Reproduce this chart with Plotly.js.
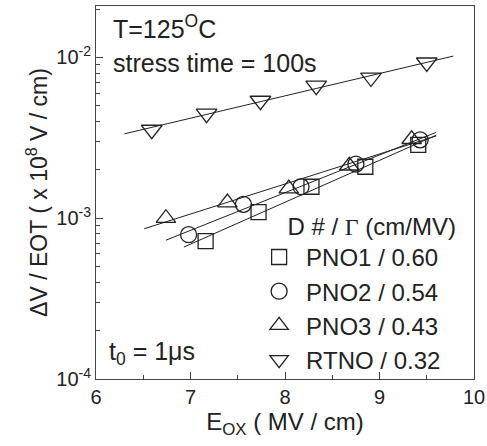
<!DOCTYPE html>
<html>
<head>
<meta charset="utf-8">
<script src="https://cdn.plot.ly/plotly-3.0.1.min.js"></script>
<style>body{margin:0;padding:0;background:#fff}#chart{width:487px;height:446px}</style>
</head>
<body>
<div id="chart"></div>
<script>
// ---- data ----
const seriesNames = ["PNO1 / 0.60", "PNO2 / 0.54", "PNO3 / 0.43", "RTNO / 0.32"];
const eox_PNO1 = [7.16, 7.72, 8.28, 8.85, 9.41];
const dv_PNO1  = [7.2e-4, 1.09e-3, 1.57e-3, 2.09e-3, 2.86e-3];
const eox_PNO2 = [6.98, 7.56, 8.17, 8.75, 9.43];
const dv_PNO2  = [7.9e-4, 1.22e-3, 1.57e-3, 2.17e-3, 3.07e-3];
const eox_PNO3 = [6.74, 7.39, 8.04, 8.68, 9.34];
const dv_PNO3  = [1.0e-3, 1.25e-3, 1.53e-3, 2.12e-3, 3.1e-3];
const eox_RTNO = [6.59, 7.17, 7.74, 8.33, 8.91, 9.50];
const dv_RTNO  = [3.55e-3, 4.47e-3, 5.38e-3, 6.68e-3, 7.5e-3, 9.3e-3];
const gamma    = [0.60, 0.54, 0.43, 0.32];           // cm/MV
const fitStart = [6.93, 6.74, 6.51, 6.30];            // extent of fit lines (MV/cm)
const fitEnd   = [9.60, 9.60, 9.60, 9.78];
const xTicks = [6, 7, 8, 9, 10];
const yTickVals = [1e-4, 1e-3, 1e-2];
const yTickText = ["10<sup>-4</sup>", "10<sup>-3</sup>", "10<sup>-2</sup>"];

const xs = [eox_PNO1, eox_PNO2, eox_PNO3, eox_RTNO];
const ys = [dv_PNO1, dv_PNO2, dv_PNO3, dv_RTNO];
const symbols = ["square-open", "circle-open", "triangle-up-open", "triangle-down-open"];
const sizes = [15, 16, 17, 18];
const ink = "#222";

// minor log ticks 2..9 x 10^k
const yMinor = [];
for (const d of yTickVals) for (let m = 2; m <= 9; m++) yMinor.push(m * d);

const traces = [];
// fit lines: ln(dV) = a + Gamma*E, intercept from the data mean
for (let i = 0; i < 4; i++) {
  const n = xs[i].length;
  let mx = 0, my = 0;
  for (let k = 0; k < n; k++) { mx += xs[i][k]; my += Math.log(ys[i][k]); }
  mx /= n; my /= n;
  const a = my - gamma[i] * mx;
  const fx = [fitStart[i], fitEnd[i]];
  traces.push({
    x: fx, y: fx.map(e => Math.exp(a + gamma[i] * e)),
    mode: "lines", line: {color: ink, width: 1}, showlegend: false, hoverinfo: "skip"
  });
}
for (let i = 0; i < 4; i++) {
  traces.push({
    x: xs[i], y: ys[i], name: seriesNames[i], mode: "markers",
    marker: {symbol: symbols[i], size: sizes[i], color: ink, line: {width: 1.3, color: ink}}
  });
}

const font = "Liberation Sans, Arial, sans-serif";
const nb = "\u00a0";
const layout = {
  width: 487, height: 446,
  margin: {l: 96, r: 13, t: 6, b: 67},
  paper_bgcolor: "#fff", plot_bgcolor: "#fff",
  font: {family: font, color: ink, size: 20},
  showlegend: true,
  legend: {
    x: 0.413, xanchor: "left", y: 0.47, yanchor: "top",
    bgcolor: "rgba(0,0,0,0)", borderwidth: 0,
    font: {size: 24, family: font, color: ink},
    title: {text: nb.repeat(5) + "D # / <span style=\"font-family:Liberation Serif\">Γ</span> (cm/MV)", font: {size: 24, family: font, color: ink}},
    itemsizing: "trace", itemwidth: 44, tracegroupgap: 0
  },
  xaxis: {
    range: [6, 10], tickvals: xTicks, ticks: "inside", ticklen: 7, tickwidth: 1, tickcolor: "#444",
    minor: {dtick: 0.5, ticks: "inside", ticklen: 4, tickcolor: "#444", showgrid: false},
    showline: true, linecolor: "#444", linewidth: 1, mirror: true, showgrid: false, zeroline: false,
    tickfont: {size: 20, family: font, color: ink},
    title: {text: "E<sub>OX</sub> ( MV / cm)", font: {size: 24, family: font, color: ink}, standoff: 6}
  },
  yaxis: {
    type: "log", range: [-4, -1.68], tickvals: yTickVals, ticktext: yTickText,
    ticks: "inside", ticklen: 7, tickwidth: 1, tickcolor: "#444",
    minor: {tickvals: yMinor, ticks: "inside", ticklen: 4, tickcolor: "#444", showgrid: false},
    showline: true, linecolor: "#444", linewidth: 1, mirror: true, showgrid: false, zeroline: false,
    tickfont: {size: 20, family: font, color: ink},
    title: {text: "ΔV / EOT ( x 10<sup>8</sup> V / cm)", font: {size: 23, family: font, color: ink}, standoff: 2}
  },
  annotations: [
    {xref: "paper", yref: "paper", x: 0.04, y: 0.945, xanchor: "left", yanchor: "middle", showarrow: false,
     text: "T=125<sup>O</sup>C", font: {size: 25, family: font, color: ink}},
    {xref: "paper", yref: "paper", x: 0.04, y: 0.847, xanchor: "left", yanchor: "middle", showarrow: false,
     text: "stress time = 100s", font: {size: 25, family: font, color: ink}},
    {xref: "paper", yref: "paper", x: 0.03, y: 0.07, xanchor: "left", yanchor: "middle", showarrow: false,
     text: "t<sub>0</sub> = 1μs", font: {size: 25, family: font, color: ink}}
  ]
};

Plotly.newPlot("chart", traces, layout, {displayModeBar: false, staticPlot: true});
</script>
</body>
</html>
